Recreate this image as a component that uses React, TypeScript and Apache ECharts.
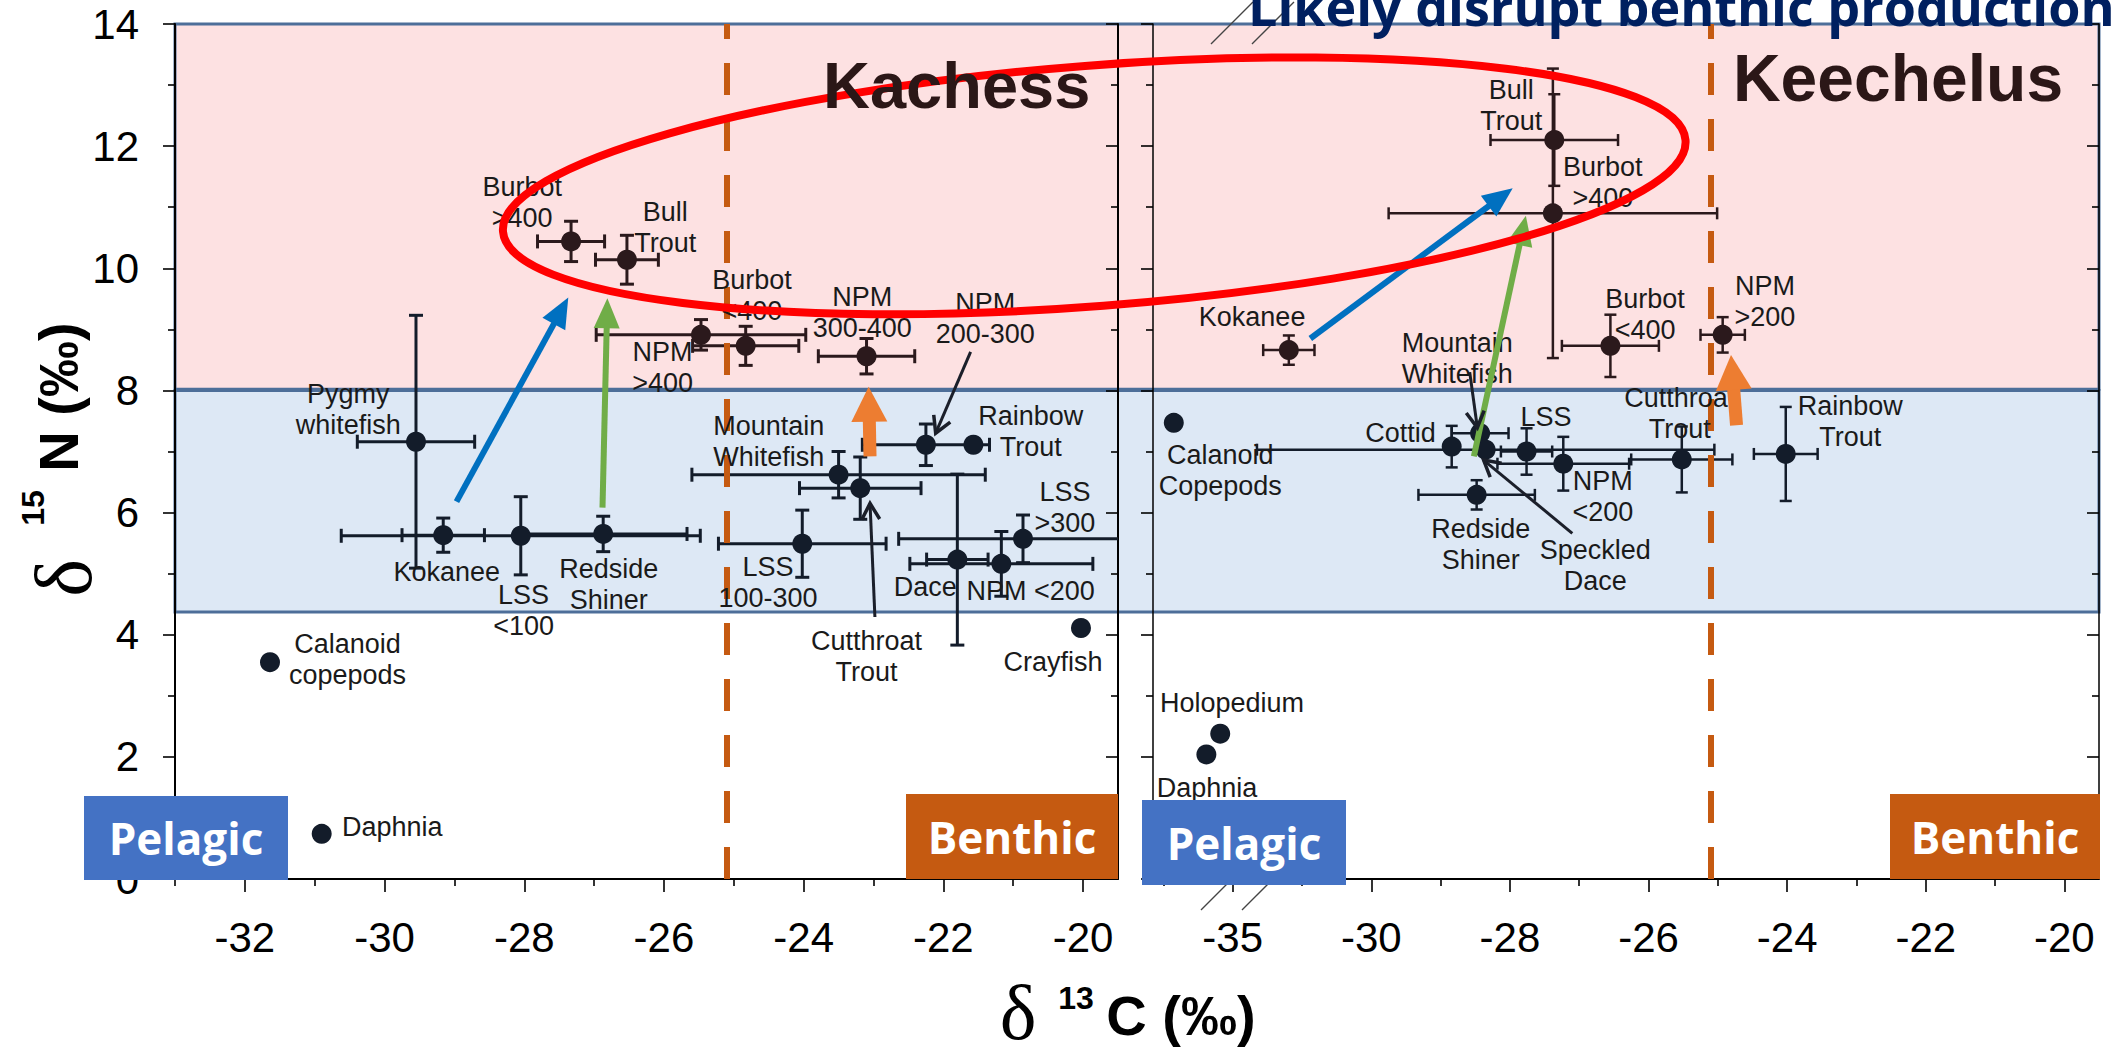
import React, { useEffect, useRef } from 'react';
import * as echarts from 'echarts';

const SANS = '"Liberation Sans", Arial, Helvetica, sans-serif';
const OPEN = '"Open Sans", "Noto Sans", sans-serif';
const SERIF = '"Liberation Serif", "DejaVu Serif", serif';

// ---------------- Kachess (left panel) ----------------
const kachessNames = ['Burbot >400', 'Bull Trout', 'NPM >400', 'Burbot <400', 'NPM 300-400', 'Pygmy whitefish', 'Kokanee', 'LSS <100', 'Redside Shiner', 'Mountain Whitefish', 'Cutthroat Trout', 'NPM 200-300', 'Rainbow Trout', 'LSS 100-300', 'Dace', 'NPM <200', 'LSS >300', 'Crayfish', 'Calanoid copepods', 'Daphnia'];
const kachessC13 = [-27.33, -26.53, -25.47, -24.83, -23.10, -29.55, -29.16, -28.05, -26.87, -23.50, -23.19, -22.25, -21.57, -24.02, -21.80, -21.17, -20.86, -20.03, -31.64, -30.90];
const kachessN15 = [10.44, 10.14, 8.91, 8.73, 8.56, 7.16, 5.63, 5.62, 5.65, 6.62, 6.40, 7.11, 7.11, 5.49, 5.23, 5.16, 5.57, 4.11, 3.55, 0.74];
const kachessC13Err = [0.48, 0.45, 1.5, 0.76, 0.69, 0.84, 0.59, 2.57, 1.2, 2.1, 0.87, 0.91, 0, 1.2, 0.44, 1.31, 1.78, 0, 0, 0];
const kachessN15Err = [0.33, 0.40, 0.25, 0.32, 0.29, 2.07, 0.28, 0.64, 0.29, 0.38, 0.51, 0.34, 0, 0.55, 1.40, 0.53, 0.39, 0, 0, 0];

const kachessLabelText = ['Burbot\n>400', 'Bull\nTrout', 'Burbot\n<400', 'NPM\n300-400', 'NPM\n200-300', 'NPM\n>400', 'Pygmy\nwhitefish', 'Kokanee', 'LSS\n<100', 'Redside\nShiner', 'LSS\n100-300', 'Mountain\nWhitefish', 'Rainbow\nTrout', 'LSS\n>300', 'Dace', 'NPM <200', 'Cutthroat\nTrout', 'Crayfish', 'Calanoid\ncopepods', 'Daphnia'];
const kachessLabelC13 = [-28.03, -25.98, -24.74, -23.16, -21.40, -26.02, -30.52, -29.11, -28.01, -26.79, -24.51, -24.50, -20.75, -20.26, -22.26, -20.75, -23.10, -20.43, -30.53, -29.89];
const kachessLabelN15 = [11.07, 10.67, 9.56, 9.27, 9.17, 8.37, 7.68, 5.03, 4.40, 4.83, 4.86, 7.16, 7.32, 6.08, 4.78, 4.72, 3.64, 3.55, 3.60, 0.85];

// ---------------- Keechelus (right panel) ----------------
const keechelusNames = ['Bull Trout', 'Burbot >400', 'Kokanee', 'Burbot <400', 'NPM >200', 'Calanoid Copepods', 'Cottid', 'Mountain Whitefish', 'Speckled Dace', 'LSS', 'NPM <200', 'Cutthroat Trout', 'Redside Shiner', 'Rainbow Trout', 'Holopedium', 'Daphnia'];
const keechelusC13 = [-27.36, -27.38, -31.19, -26.55, -24.93, -35.85, -28.84, -28.43, -28.35, -27.76, -27.23, -25.52, -28.48, -24.02, -35.18, -35.38];
const keechelusN15 = [12.10, 10.90, 8.66, 8.73, 8.91, 7.47, 7.08, 7.30, 7.03, 7.00, 6.80, 6.87, 6.29, 6.96, 2.38, 2.04];
const keechelusC13Err = [0.92, 2.37, 0.37, 0.70, 0.32, 0, 0, 0.41, 3.3, 0.37, 0.95, 0.73, 0.84, 0.46, 0, 0];
const keechelusN15Err = [0.75, 2.37, 0.24, 0.51, 0.29, 0, 0.34, 0, 0, 0.38, 0.44, 0.54, 0.24, 0.77, 0, 0];

const keechelusLabelText = ['Bull\nTrout', 'Burbot\n>400', 'Kokanee', 'Burbot\n<400', 'NPM\n>200', 'Mountain\nWhitefish', 'Cutthroat\nTrout', 'Rainbow\nTrout', 'Calanoid\nCopepods', 'Cottid', 'LSS', 'NPM\n<200', 'Redside\nShiner', 'Speckled\nDace', 'Holopedium', 'Daphnia'];
const keechelusLabelC13 = [-27.98, -26.66, -31.72, -26.05, -24.32, -28.76, -25.55, -23.09, -35.18, -29.58, -27.48, -26.66, -28.42, -26.77, -35.01, -35.37];
const keechelusLabelN15 = [12.67, 11.40, 9.21, 9.25, 9.46, 8.53, 7.63, 7.49, 6.69, 7.30, 7.57, 6.26, 5.48, 5.13, 2.88, 1.49];

// ---------------- axes ----------------
const xMajorTicks = [-32, -30, -28, -26, -24, -22, -20];
const xMinorTicks = [-33, -31, -29, -27, -25, -23, -21];
const kachessXRange = [-33, -19.5];
const keechelusXRange = [-33.15, -19.5];
// Keechelus axis is broken: values at or below -33 are drawn 3 units to the right
const BREAK_AT = -33;
const BREAK_SHIFT = 3;
const brk = (v: number) => (v <= BREAK_AT ? v + BREAK_SHIFT : v);
const keechelusTickName = (v: number) => (v <= BREAK_AT + 1 ? String(v - BREAK_SHIFT) : String(v));

// shaded trophic zones (delta 15N)
const pinkZoneN15 = [8.02, 14];
const blueZoneN15 = [4.37, 8.0];
const benthicLineC13 = -25.1;

// annotations (data coordinates of the respective panel)
const kachessArrows = [
  { from: [-28.97, 6.18], to: [-27.37, 9.52], kind: 'blue' },
  { from: [-26.88, 6.08], to: [-26.81, 9.51], kind: 'green' },
  { from: [-23.05, 6.92], to: [-23.07, 8.06], kind: 'orange' },
  { from: [-21.61, 8.63], to: [-22.11, 7.30], kind: 'pointer' },
  { from: [-22.98, 4.29], to: [-23.05, 6.15], kind: 'pointer' },
];
const keechelusArrows = [
  { from: [-30.88, 8.85], to: [-27.96, 11.31], kind: 'blue' },
  { from: [-28.52, 6.92], to: [-27.77, 10.86], kind: 'green' },
  { from: [-24.73, 7.43], to: [-24.81, 8.58], kind: 'orange' },
  { from: [-28.58, 8.30], to: [-28.47, 7.39], kind: 'pointer' },
  { from: [-27.10, 5.66], to: [-28.38, 6.86], kind: 'pointer' },
];
const ellipseSpec = { c13: -19.84, n15: 11.35, rxC13: 8.49, ryN15: 1.97, deg: 4.41 };

const PINK_DOT = '#2b191c';
const BLUE_DOT = '#131c2a';
const dotColor = (n: number) => (n > 8.05 ? PINK_DOT : BLUE_DOT);

function errRender(lw: number, cap: number, xMax: number) {
  return (params: any, api: any) => {
    const x = api.value(0), y = api.value(1), xe = api.value(2), ye = api.value(3);
    const st = { stroke: dotColor(y), lineWidth: lw, fill: null };
    const ch: any[] = [];
    if (xe > 0) {
      const hiV = Math.min(x + xe, xMax);
      const a = api.coord([x - xe, y]);
      const b = api.coord([hiV, y]);
      ch.push({ type: 'line', shape: { x1: a[0], y1: a[1], x2: b[0], y2: b[1] }, style: st });
      ch.push({ type: 'line', shape: { x1: a[0], y1: a[1] - cap, x2: a[0], y2: a[1] + cap }, style: st });
      if (hiV === x + xe) ch.push({ type: 'line', shape: { x1: b[0], y1: b[1] - cap, x2: b[0], y2: b[1] + cap }, style: st });
    }
    if (ye > 0) {
      const a = api.coord([x, y - ye]);
      const b = api.coord([x, y + ye]);
      ch.push({ type: 'line', shape: { x1: a[0], y1: a[1], x2: b[0], y2: b[1] }, style: st });
      ch.push({ type: 'line', shape: { x1: a[0] - cap, y1: a[1], x2: a[0] + cap, y2: a[1] }, style: st });
      ch.push({ type: 'line', shape: { x1: b[0] - cap, y1: b[1], x2: b[0] + cap, y2: b[1] }, style: st });
    }
    return { type: 'group', children: ch };
  };
}

function labelRender(texts: string[]) {
  return (params: any, api: any) => {
    const p = api.coord([api.value(0), api.value(1)]);
    return {
      type: 'text',
      x: p[0],
      y: p[1],
      style: {
        text: texts[params.dataIndex],
        fill: '#1a1a1a',
        fontSize: 27,
        fontFamily: SANS,
        align: 'center',
        verticalAlign: 'middle',
        lineHeight: 31,
      },
    };
  };
}

const axisLine = { show: true, onZero: false, lineStyle: { color: '#000', width: 2 } };
const tickStyle = { color: '#000', width: 1.6 };
const tickFont = { fontFamily: SANS, fontSize: 42, color: '#000' };

function xAxes(gridIndex: number, range: number[], fmt: (v: number) => string) {
  return [
    {
      gridIndex, type: 'value', min: range[0], max: range[1], position: 'bottom',
      axisLine, splitLine: { show: false },
      axisTick: { show: true, customValues: xMajorTicks, length: 13, lineStyle: tickStyle },
      axisLabel: { show: true, customValues: xMajorTicks, margin: 37, formatter: fmt, ...tickFont },
    },
    {
      gridIndex, type: 'value', min: range[0], max: range[1], position: 'bottom',
      axisLine: { show: false, onZero: false }, splitLine: { show: false },
      axisTick: { show: true, customValues: xMinorTicks, length: 7, lineStyle: tickStyle },
      axisLabel: { show: false },
    },
  ];
}

function yAxes(gridIndex: number, showLabels: boolean, lw: number) {
  const base = { gridIndex, type: 'value', min: 0, max: 14, interval: 2, splitLine: { show: false }, minorSplitLine: { show: false } };
  return [
    {
      ...base, position: 'left',
      axisLine: { show: true, onZero: false, lineStyle: { color: '#000', width: lw } },
      axisTick: { show: true, length: 12, lineStyle: tickStyle },
      minorTick: { show: true, splitNumber: 2, length: 7, lineStyle: tickStyle },
      axisLabel: { show: showLabels, margin: 36, ...tickFont },
    },
    {
      ...base, position: 'right',
      axisLine: { show: true, onZero: false, lineStyle: { color: '#000', width: lw } },
      axisTick: { show: true, inside: true, length: 12, lineStyle: tickStyle },
      minorTick: { show: true, splitNumber: 2, length: 7, lineStyle: tickStyle },
      axisLabel: { show: false },
    },
  ];
}

function buildOption() {
  const kErr = kachessC13.map((v, i) => [v, kachessN15[i], kachessC13Err[i], kachessN15Err[i]]);
  const kDots = kachessC13.map((v, i) => ({ name: kachessNames[i], value: [v, kachessN15[i]] }));
  const kLab = kachessLabelC13.map((v, i) => [v, kachessLabelN15[i]]);
  const rErr = keechelusC13.map((v, i) => [brk(v), keechelusN15[i], keechelusC13Err[i], keechelusN15Err[i]]);
  const rDots = keechelusC13.map((v, i) => ({ name: keechelusNames[i], value: [brk(v), keechelusN15[i]] }));
  const rLab = keechelusLabelC13.map((v, i) => [brk(v), keechelusLabelN15[i]]);
  const dashed = (w: number) => ({
    silent: true, symbol: ['none', 'none'], label: { show: false },
    lineStyle: { color: '#C55A11', width: w, type: [32, 24], opacity: 1 },
    data: [{ xAxis: benthicLineC13 }],
  });
  return {
    animation: false,
    backgroundColor: '#ffffff',
    grid: [
      { left: 175, top: 24, width: 943, height: 855 },
      { left: 1153, top: 24, width: 946, height: 855 },
    ],
    xAxis: [...xAxes(0, kachessXRange, (v: number) => String(v)), ...xAxes(1, keechelusXRange, keechelusTickName)],
    yAxis: [...yAxes(0, true, 2), ...yAxes(1, false, 1.5)],
    series: [
      { type: 'custom', name: 'Kachess error', xAxisIndex: 0, yAxisIndex: 0, silent: true, z: 3, encode: { x: 0, y: 1 }, renderItem: errRender(3, 7, kachessXRange[1]), data: kErr },
      { type: 'scatter', name: 'Kachess', xAxisIndex: 0, yAxisIndex: 0, silent: true, z: 4, symbolSize: 20, itemStyle: { color: (p: any) => dotColor(p.value[1]), opacity: 1 }, data: kDots, markLine: dashed(6) },
      { type: 'custom', name: 'Kachess labels', xAxisIndex: 0, yAxisIndex: 0, silent: true, z: 5, encode: { x: 0, y: 1 }, renderItem: labelRender(kachessLabelText), data: kLab },
      { type: 'custom', name: 'Keechelus error', xAxisIndex: 2, yAxisIndex: 2, silent: true, z: 3, encode: { x: 0, y: 1 }, renderItem: errRender(2.5, 6, keechelusXRange[1]), data: rErr },
      { type: 'scatter', name: 'Keechelus', xAxisIndex: 2, yAxisIndex: 2, silent: true, z: 4, symbolSize: 20, itemStyle: { color: (p: any) => dotColor(p.value[1]), opacity: 1 }, data: rDots, markLine: dashed(6) },
      { type: 'custom', name: 'Keechelus labels', xAxisIndex: 2, yAxisIndex: 2, silent: true, z: 5, encode: { x: 0, y: 1 }, renderItem: labelRender(keechelusLabelText), data: rLab },
    ],
  };
}

const arrowStyles: Record<string, any> = {
  blue: { color: '#0070C0', w: 6, hl: 30, hw: 26, open: false },
  green: { color: '#70AD47', w: 6, hl: 30, hw: 26, open: false },
  orange: { color: '#ED7D31', w: 13, hl: 35, hw: 36, open: false },
  pointer: { color: '#1b1f2a', w: 3, hl: 16, hw: 18, open: true },
};

function arrowEls(p0: number[], p1: number[], kind: string) {
  const s = arrowStyles[kind];
  const dx = p1[0] - p0[0], dy = p1[1] - p0[1];
  const L = Math.hypot(dx, dy);
  const ux = dx / L, uy = dy / L, nx = -uy, ny = ux;
  const bx = p1[0] - ux * s.hl, by = p1[1] - uy * s.hl;
  const left = [bx + nx * s.hw / 2, by + ny * s.hw / 2];
  const right = [bx - nx * s.hw / 2, by - ny * s.hw / 2];
  if (s.open) {
    return [
      { type: 'line', z: 20, silent: true, shape: { x1: p0[0], y1: p0[1], x2: p1[0], y2: p1[1] }, style: { stroke: s.color, lineWidth: s.w } },
      { type: 'polyline', z: 20, silent: true, shape: { points: [left, p1, right] }, style: { stroke: s.color, lineWidth: s.w + 0.5, fill: null } },
    ];
  }
  return [
    { type: 'line', z: 20, silent: true, shape: { x1: p0[0], y1: p0[1], x2: bx + ux * 2, y2: by + uy * 2 }, style: { stroke: s.color, lineWidth: s.w } },
    { type: 'polygon', z: 20, silent: true, shape: { points: [p1, left, right] }, style: { fill: s.color } },
  ];
}

function txt(x: number, y: number, text: string, size: number, opts: any = {}) {
  return {
    type: 'text', x, y, z: opts.z ?? 30, silent: true, rotation: opts.rotation ?? 0,
    style: {
      text, fill: opts.color ?? '#000', fontSize: size, fontFamily: opts.family ?? SANS,
      fontWeight: opts.weight ?? 'normal', align: opts.align ?? 'center', verticalAlign: opts.valign ?? 'middle',
    },
  };
}

function buildGraphic(chart: any) {
  const toL = (x: number, y: number) => chart.convertToPixel({ xAxisIndex: 0, yAxisIndex: 0 }, [x, y]);
  const toR = (x: number, y: number) => chart.convertToPixel({ xAxisIndex: 2, yAxisIndex: 2 }, [brk(x), y]);
  const els: any[] = [];

  // zones spanning both panels
  const zone = (lo: number, hi: number, fill: string) => {
    const a = toL(kachessXRange[0], hi);
    const b = toR(keechelusXRange[1], lo);
    return { type: 'rect', z: -1, silent: true, shape: { x: a[0], y: a[1], width: b[0] - a[0], height: b[1] - a[1] }, style: { fill, stroke: '#4d6e99', lineWidth: 3 } };
  };
  els.push(zone(pinkZoneN15[0], pinkZoneN15[1], '#FDE1E2'));
  els.push(zone(blueZoneN15[0], blueZoneN15[1], '#DDE8F5'));

  // ellipse
  const c = toL(ellipseSpec.c13, ellipseSpec.n15);
  const rx = toL(ellipseSpec.c13 + ellipseSpec.rxC13, 0)[0] - c[0];
  const ry = toL(0, ellipseSpec.n15 - ellipseSpec.ryN15)[1] - c[1];
  els.push({ type: 'ellipse', x: c[0], y: c[1], rotation: (ellipseSpec.deg * Math.PI) / 180, z: 25, silent: true, shape: { cx: 0, cy: 0, rx, ry }, style: { fill: null, stroke: '#FF0000', lineWidth: 8 } });

  kachessArrows.forEach((a) => els.push(...arrowEls(toL(a.from[0], a.from[1]), toL(a.to[0], a.to[1]), a.kind)));
  keechelusArrows.forEach((a) => els.push(...arrowEls(toR(a.from[0], a.from[1]), toR(a.to[0], a.to[1]), a.kind)));

  // lake names
  const kp = toL(-21.81, 13.0);
  els.push(txt(kp[0], kp[1], 'Kachess', 65, { weight: 'bold', color: '#2b1717' }));
  const rp = toR(-22.40, 13.12);
  els.push(txt(rp[0], rp[1], 'Keechelus', 66, { weight: 'bold', color: '#2b1717' }));

  // axis break marks
  const bt = toR(-32.4, 14);
  const bb = toR(-32.4, 0);
  const mark = (x1: number, y1: number, x2: number, y2: number, z: number) => ({ type: 'line', z, silent: true, shape: { x1, y1, x2, y2 }, style: { stroke: '#444', lineWidth: 1.3 } });
  els.push(mark(bt[0] + 6, bt[1] + 20, bt[0] + 48, bt[1] - 22, 30));
  els.push(mark(bt[0] + 47, bt[1] + 20, bt[0] + 89, bt[1] - 22, 30));
  els.push(mark(bb[0] - 4, bb[1] + 31, bb[0] + 36, bb[1] - 9, 28));
  els.push(mark(bb[0] + 37, bb[1] + 31, bb[0] + 77, bb[1] - 9, 28));

  // Pelagic / Benthic boxes
  const box = (x: number, y: number, w: number, h: number, fill: string, label: string) => [
    { type: 'rect', z: 29, silent: true, shape: { x, y, width: w, height: h }, style: { fill } },
    txt(x + w / 2, y + h / 2, label, 44, { weight: 'bold', family: OPEN, color: '#ffffff', z: 30 }),
  ];
  els.push(...box(84, 796, 204, 84, '#4472C4', 'Pelagic'));
  els.push(...box(906, 794, 212, 85, '#C55A11', 'Benthic'));
  els.push(...box(1142, 800, 204, 85, '#4472C4', 'Pelagic'));
  els.push(...box(1890, 794, 210, 85, '#C55A11', 'Benthic'));

  // axis titles
  els.push(txt(1018, 1012, 'δ', 78, { family: SERIF }));
  els.push(txt(1076, 998, '13', 32, { weight: 'bold' }));
  els.push(txt(1181, 1015, 'C (‰)', 56, { weight: 'bold' }));
  const R = Math.PI / 2;
  els.push(txt(64, 578, 'δ', 80, { family: SERIF, rotation: R }));
  els.push(txt(33, 508, '15', 32, { weight: 'bold', rotation: R }));
  els.push(txt(58, 397, 'N (‰)', 56, { weight: 'bold', rotation: R }));

  // headline
  els.push(txt(1248, 5, 'Likely disrupt benthic production', 52, { weight: 'bold', family: OPEN, color: '#002060', align: 'left', z: 31 }));
  return els;
}

export default function App() {
  const ref = useRef<HTMLDivElement>(null);
  useEffect(() => {
    const chart = echarts.init(ref.current as HTMLDivElement, null, { renderer: 'svg' });
    chart.setOption(buildOption() as any);
    chart.setOption({ graphic: { elements: buildGraphic(chart) } } as any);
    return () => chart.dispose();
  }, []);
  return (
    <div
      ref={ref}
      style={{ position: 'fixed', left: 0, top: 0, width: '2111px', height: '1054px', background: '#ffffff' }}
    />
  );
}
